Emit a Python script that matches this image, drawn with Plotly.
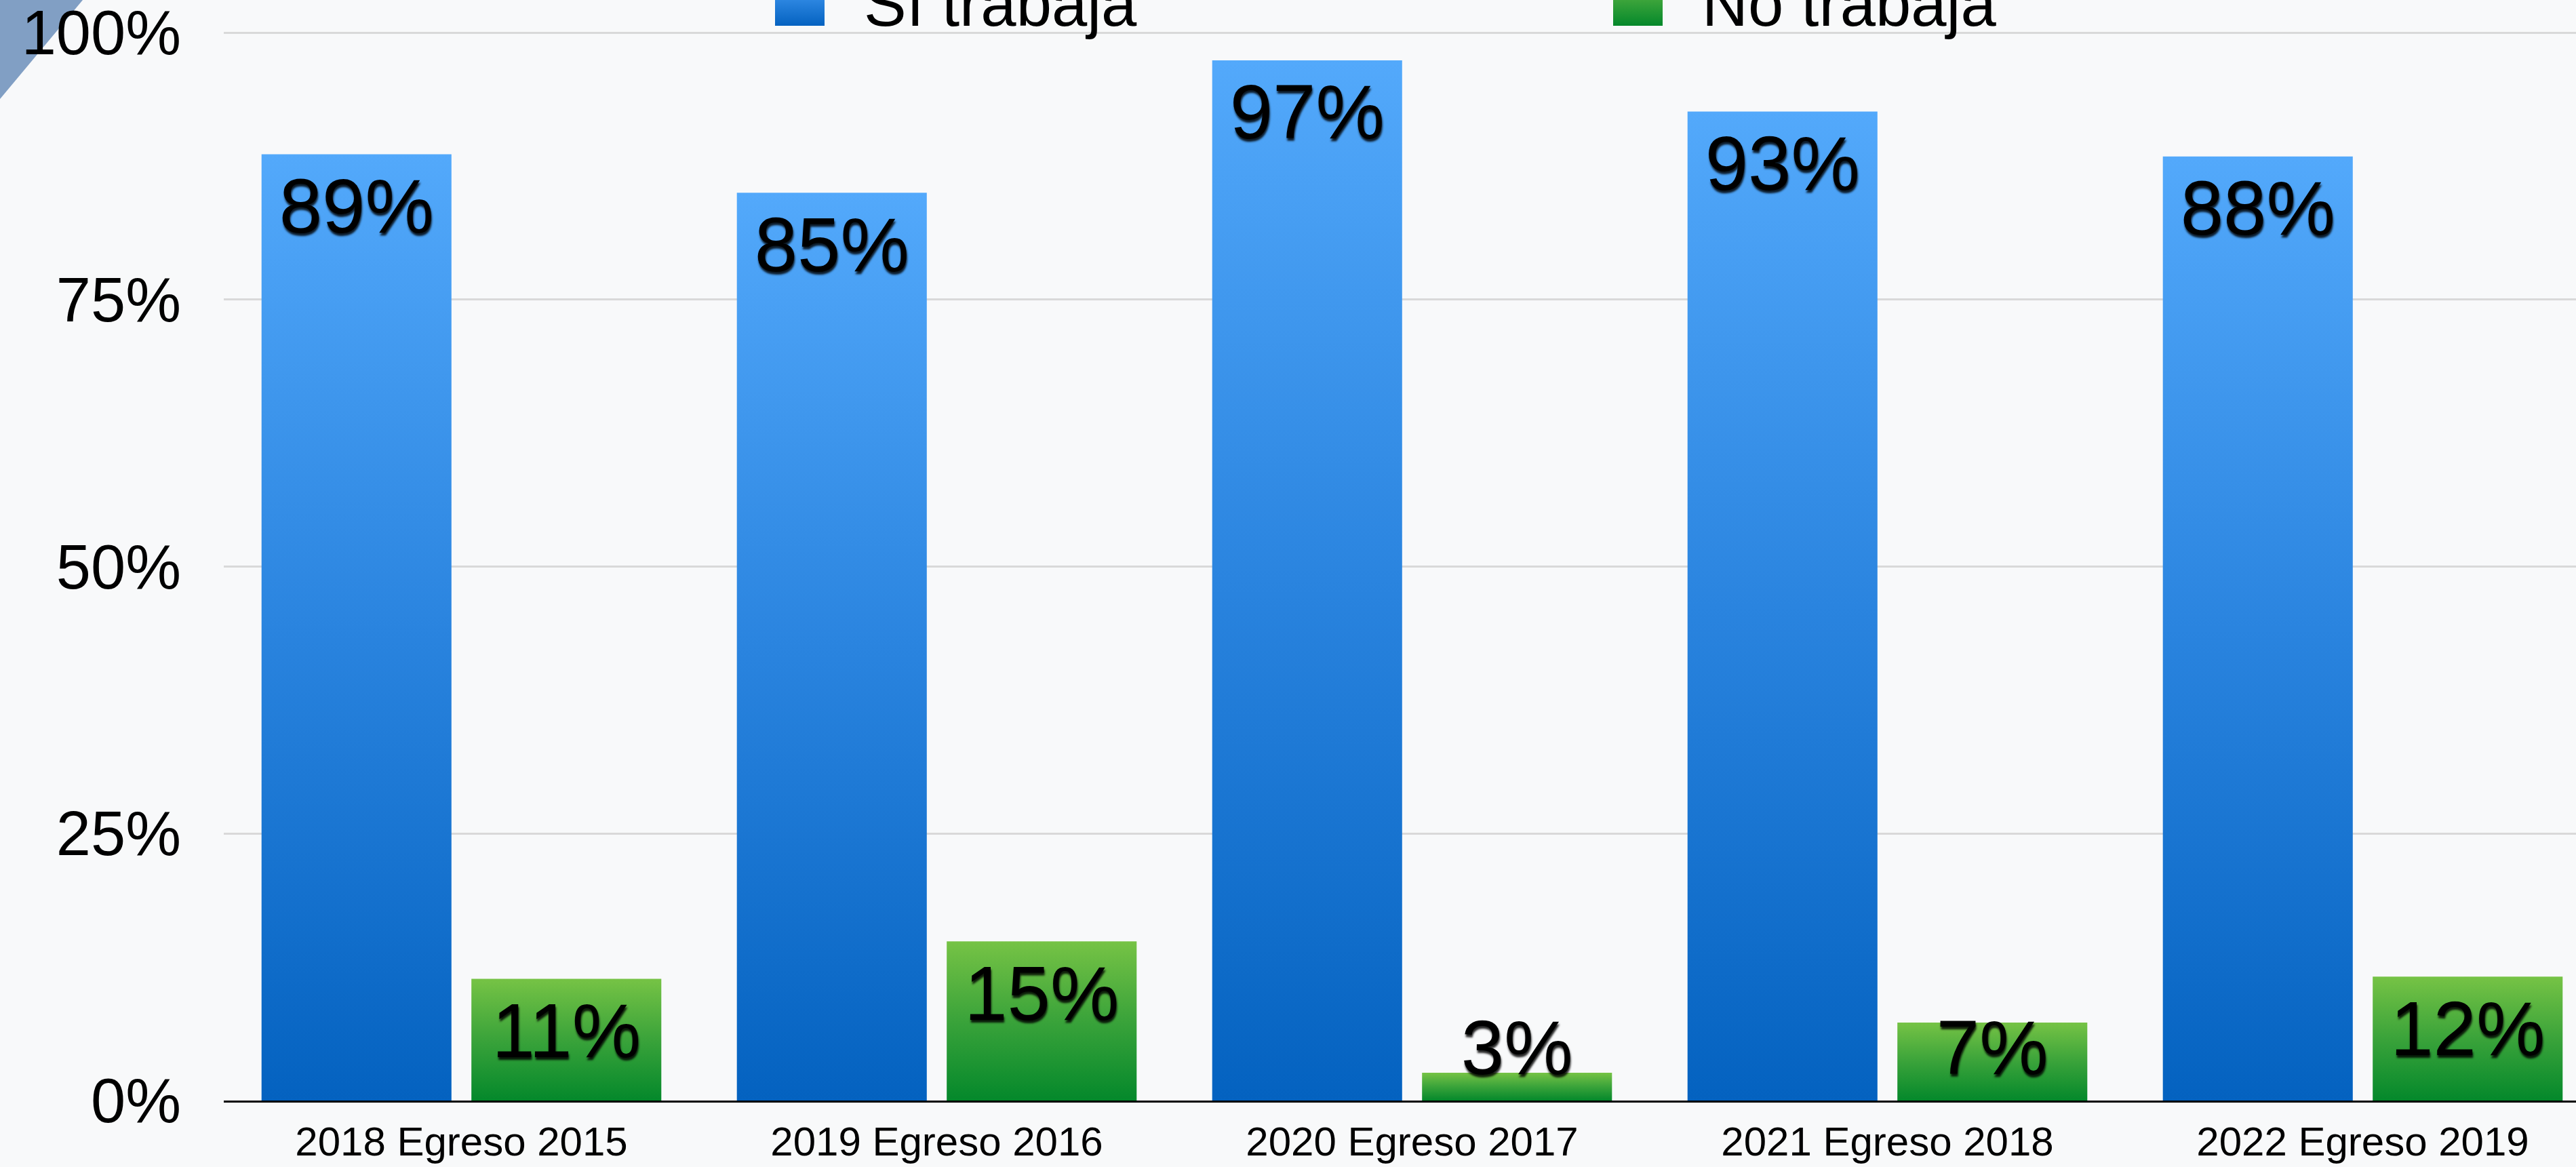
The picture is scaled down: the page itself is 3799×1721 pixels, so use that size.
import plotly.graph_objects as go

# ---- data ----
categories = ["2018 Egreso 2015", "2019 Egreso 2016", "2020 Egreso 2017",
              "2021 Egreso 2018", "2022 Egreso 2019"]
si_trabaja = [88.6, 85.0, 97.4, 92.6, 88.4]
no_trabaja = [11.4, 14.9, 2.6, 7.3, 11.6]
series_names = ["Sí trabaja", "No trabaja"]
y_tickvals = [0, 25, 50, 75, 100]
y_ticktext = ["0%", "25%", "50%", "75%", "100%"]

# ---- style ----
FONT = "Liberation Sans, Arial, Helvetica, sans-serif"
BLUE = "#0563C1"
GREEN = "#078A2C"
BG = "#F8F9FA"
W, H = 3799, 1721
ML, MB = 330, 98
BARGAP = 0.117
LABEL_FLOOR = 9.8  # labels never sit lower than this level
label_font = dict(family=FONT, size=114, color="black",
                  shadow="1px 4px 3px rgba(0,0,0,0.85)")

fig = go.Figure()
for vals, name, color, leg, grp in [(si_trabaja, series_names[0], BLUE, "legend", "si"),
                                     (no_trabaja, series_names[1], GREEN, "legend2", "no")]:
    fig.add_trace(go.Bar(
        x=categories, y=vals, name=name, legend=leg, offsetgroup=grp,
        marker=dict(color=color, line=dict(width=0)),
        hoverinfo="skip",
    ))
for vals, grp in [(si_trabaja, "si"), (no_trabaja, "no")]:
    fig.add_trace(go.Scatter(
        x=categories, y=[max(v, LABEL_FLOOR) for v in vals], offsetgroup=grp,
        mode="markers+text", text=["{:.0f}%".format(v) for v in vals],
        textposition="bottom center", textfont=label_font,
        marker=dict(size=46, opacity=0), showlegend=False,
        cliponaxis=False, hoverinfo="skip",
    ))

plot_w = W - ML
cat_px = 701.0
x_span = plot_w / cat_px

def px_to_paper_x(px):
    return (px - ML) / plot_w

def px_to_paper_y(py):
    return (H - MB - py) / (H - MB)

corner = "M {},{} L {},{} L {},{} Z".format(
    px_to_paper_x(0), px_to_paper_y(0),
    px_to_paper_x(122), px_to_paper_y(0),
    px_to_paper_x(0), px_to_paper_y(146))

legend_common = dict(
    orientation="h", font=dict(family=FONT, size=94, color="black"),
    bgcolor="rgba(0,0,0,0)", itemwidth=179, yanchor="middle", xanchor="left",
    itemclick=False, itemdoubleclick=False,
)

fig.update_layout(
    width=W, height=H,
    margin=dict(l=ML, r=0, t=0, b=MB, pad=0, autoexpand=False),
    paper_bgcolor=BG, plot_bgcolor=BG,
    barmode="group", bargap=BARGAP, bargroupgap=0.095,
    scattermode="group", scattergap=BARGAP,
    font=dict(family=FONT, color="black"),
    showlegend=True,
    legend=dict(**legend_common, x=px_to_paper_x(1085), y=px_to_paper_y(2)),
    legend2=dict(**legend_common, x=px_to_paper_x(2321), y=px_to_paper_y(2)),
    shapes=[dict(type="path", path=corner, xref="paper", yref="paper",
                 fillcolor="#819FC4", line=dict(width=0), layer="below")],
    xaxis=dict(
        range=[-0.5, -0.5 + x_span], type="category",
        showgrid=False, showline=True, linecolor="black", linewidth=3,
        ticks="", tickfont=dict(family=FONT, size=60, color="black"),
        ticklabelstandoff=6, ticklabeloverflow="allow", fixedrange=True,
    ),
    yaxis=dict(
        range=[0, 100 * (H - MB) / 1575.0],
        tickvals=y_tickvals, ticktext=y_ticktext,
        showgrid=True, gridcolor="#D9D9D9", gridwidth=3,
        zeroline=False, showline=False, ticks="",
        tickfont=dict(family=FONT, size=92, color="black"),
        ticklabelstandoff=62, ticklabeloverflow="allow", fixedrange=True,
    ),
)

post = """
document.documentElement.style.margin='0';
document.body.style.margin='0';
document.body.style.background='%s';
var gd = document.getElementById('{plot_id}');
function applyGrad(){
  var ns='http://www.w3.org/2000/svg';
  var svg=gd.querySelector('.main-svg');
  var defs=svg.querySelector('defs');
  function mk(id,c1,c2,c3){
    if(document.getElementById(id)) return;
    var g=document.createElementNS(ns,'linearGradient');
    g.setAttribute('id',id);g.setAttribute('x1','0');g.setAttribute('y1','0');
    g.setAttribute('x2','0');g.setAttribute('y2','1');
    [[0,c1],[0.5,c2],[1,c3]].forEach(function(s){
      var st=document.createElementNS(ns,'stop');
      st.setAttribute('offset',s[0]);st.setAttribute('stop-color',s[1]);g.appendChild(st);});
    defs.appendChild(g);
  }
  mk('gradSi','#53A9FB','#2A84DF','#0462C0');
  mk('gradNo','#76C345','#3AA33A','#04882B');
  gd.querySelectorAll('.barlayer .point path').forEach(function(p){
    var f=p.style.fill||'';
    if(f.indexOf('5, 99, 193')>=0) p.style.fill='url(#gradSi)';
    else if(f.indexOf('7, 138, 44')>=0) p.style.fill='url(#gradNo)';
  });
  gd.querySelectorAll('.legendpoints path').forEach(function(p){
    var f=p.style.fill||'';
    if(f.indexOf('5, 99, 193')>=0){p.style.fill='url(#gradSi)';}
    else if(f.indexOf('7, 138, 44')>=0){p.style.fill='url(#gradNo)';}
    p.setAttribute('d','M36.5,36.5H-36.5V-36.5H36.5Z');
  });
}
applyGrad();
gd.on('plotly_afterplot', applyGrad);
""" % BG

fig.write_html("out.html", post_script=post, config={"displayModeBar": False})
